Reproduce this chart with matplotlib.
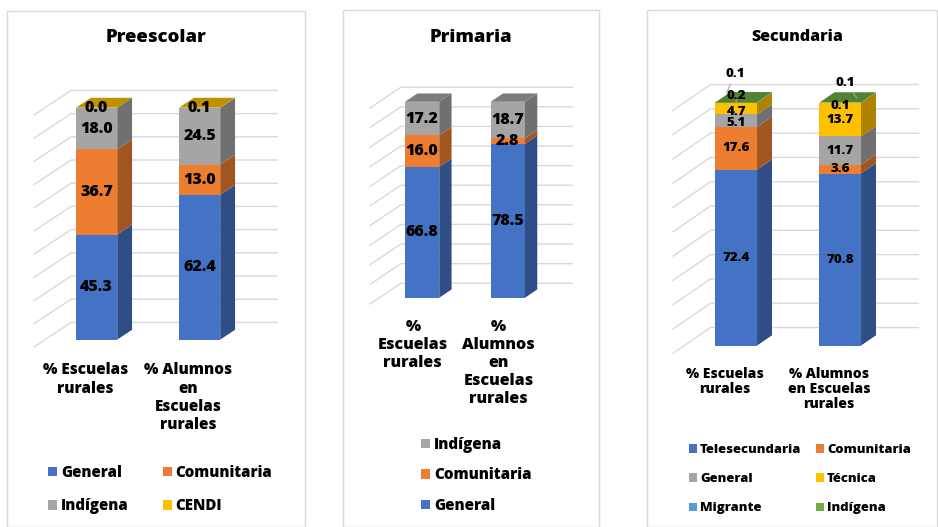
import matplotlib
matplotlib.use('Agg')
import matplotlib.pyplot as plt
from matplotlib.colors import to_rgb
from matplotlib.patches import Patch, Polygon, Rectangle

W, H = 938, 527

BLUE, ORANGE, GRAY, YELLOW, LBLUE, GREEN = (
    '#4472C4', '#ED7D31', '#A5A5A5', '#FFC000', '#5B9BD5', '#70AD47')
GRID = '#D9D9D9'

# Preescolar
pre_labels = ['% Escuelas\nrurales', '% Alumnos\nen\nEscuelas\nrurales']
pre_general = [45.3, 62.4]
pre_comunitaria = [36.7, 13.0]
pre_indigena = [18.0, 24.5]
pre_cendi = [0.0, 0.1]

# Primaria
pri_labels = ['%\nEscuelas\nrurales', '%\nAlumnos\nen\nEscuelas\nrurales']
pri_general = [66.8, 78.5]
pri_comunitaria = [16.0, 2.8]
pri_indigena = [17.2, 18.7]

# Secundaria
sec_labels = ['% Escuelas\nrurales', '% Alumnos\nen Escuelas\nrurales']
sec_telesecundaria = [72.4, 70.8]
sec_comunitaria = [17.6, 3.6]
sec_general = [5.1, 11.7]
sec_tecnica = [4.7, 13.7]
sec_migrante = [0.2, 0.1]
sec_indigena = [0.1, 0.1]

DX, DY = 0.36, 10.6   # full depth of the 3d box (x units, value units)
F0, F1 = 0.3, 0.7     # front / back of the bars, as part of the depth
BW = 0.4

plt.rcParams['font.family'] = ['Open Sans', 'DejaVu Sans']
plt.rcParams['font.weight'] = 'heavy'
WEIGHT = 'heavy'


def shade(c, k):
    return tuple(v * k for v in to_rgb(c))


def make_axes(fig, left, base, sx, sy):
    w = (2 + DX) * sx
    h = (100 + DY) * sy
    ax = fig.add_axes([left / W, 1 - base / H, w / W, h / H])
    ax.set_xlim(-0.5, 1.5 + DX)
    ax.set_ylim(0, 100 + DY)
    ax.set_frame_on(False)
    ax.set_yticks([])
    for v in range(0, 101, 10):
        ax.plot([-0.5, -0.5 + DX, 1.5 + DX], [v, v + DY, v + DY],
                color=GRID, lw=1, clip_on=False, zorder=0)
    return ax


def stack(ax, series, fs, moved=None):
    # moved: (series, bar) -> (dx, dy) from the segment middle,
    # or (dx, dy from the bar top, leader x, leader y)
    moved = moved or {}
    d = F1 - F0
    bottoms = [0.0, 0.0]
    for k, (name, vals, color) in enumerate(series):
        for i, v in enumerate(vals):
            b = bottoms[i]
            xc = i + F0 * DX
            ax.bar(xc, v, BW, bottom=b + F0 * DY, color=color, lw=0, zorder=2)
            xr = xc + BW / 2
            ax.add_patch(Polygon(
                [(xr, b + F0 * DY), (xr + d * DX, b + F1 * DY),
                 (xr + d * DX, b + v + F1 * DY), (xr, b + v + F0 * DY)],
                closed=True, fc=shade(color, 0.68), ec='none', zorder=2))
            bottoms[i] += v
    top_color = series[-1][2]
    for i, t in enumerate(bottoms):
        xl = i + F0 * DX - BW / 2
        ax.add_patch(Polygon(
            [(xl, t + F0 * DY), (xl + BW, t + F0 * DY),
             (xl + BW + d * DX, t + F1 * DY), (xl + d * DX, t + F1 * DY)],
            closed=True, fc=shade(top_color, 0.75), ec='none', zorder=2))

    bottoms = [0.0, 0.0]
    for k, (name, vals, color) in enumerate(series):
        for i, v in enumerate(vals):
            b = bottoms[i]
            bottoms[i] += v
            xc = i + F0 * DX
            y = b + v / 2 + F0 * DY
            spec = moved.get((k, i))
            txt = f'{v:.1f}'
            if spec is None:
                ax.text(xc, y, txt, ha='center', va='center', fontsize=fs,
                        fontweight=WEIGHT, zorder=4)
            elif len(spec) == 2:
                ax.text(xc + spec[0], y + spec[1], txt, ha='center',
                        va='center', fontsize=fs, fontweight=WEIGHT, zorder=4)
            else:
                top = sum(s[1][i] for s in series) + F0 * DY
                ax.annotate(txt, xy=(xc + spec[2], top + spec[3]),
                            xytext=(xc + spec[0], top + spec[1]),
                            ha='center', va='center', fontsize=fs,
                            fontweight=WEIGHT, annotation_clip=False, zorder=4,
                            arrowprops=dict(arrowstyle='-', color='#A6A6A6',
                                            lw=0.8, shrinkA=1, shrinkB=0))


def ticks(ax, labels, fs, pad, ls):
    ax.set_xticks([0, 1])
    ax.set_xticklabels(labels, fontsize=fs, fontweight=WEIGHT, linespacing=ls)
    ax.tick_params(axis='x', length=0, pad=pad)


def legend(ax, fig, items, x, y, fs, ncol, colsp, labsp):
    handles = [Patch(fc=c) for _, c in items]
    ax.legend(handles, [n for n, _ in items], loc='upper left',
              bbox_to_anchor=(x / W, 1 - y / H), bbox_transform=fig.transFigure,
              ncol=ncol, frameon=False, handlelength=0.6,
              handleheight=0.6, handletextpad=0.25, columnspacing=colsp,
              labelspacing=labsp, borderpad=0, borderaxespad=0,
              prop={'size': fs, 'weight': WEIGHT})


fig = plt.figure(figsize=(W / 100, H / 100), dpi=100)

for x0, x1, y0 in [(7, 305, 11), (343, 599, 10), (647, 937, 10)]:
    fig.add_artist(Rectangle((x0 / W, 0), (x1 - x0) / W, 1 - y0 / H,
                             transform=fig.transFigure, fill=False,
                             ec=GRID, lw=1))

# Preescolar
ax1 = make_axes(fig, 34, 347, 103, 2.32)
stack(ax1, [('General', pre_general, BLUE),
            ('Comunitaria', pre_comunitaria, ORANGE),
            ('Indígena', pre_indigena, GRAY),
            ('CENDI', pre_cendi, YELLOW)], 11.5)
ticks(ax1, pre_labels, 11, 11, 1.2)
fig.text(156 / W, 1 - 38 / H, 'Preescolar', ha='center', va='center',
         fontsize=13.3, fontweight=WEIGHT)
legend(ax1, fig, [('General', BLUE), ('Indígena', GRAY),
                  ('Comunitaria', ORANGE), ('CENDI', YELLOW)],
       48, 465, 10.8, 2, 2.3, 1.15)

# Primaria
ax2 = make_axes(fig, 370, 304, 85.7, 1.96)
stack(ax2, [('General', pri_general, BLUE),
            ('Comunitaria', pri_comunitaria, ORANGE),
            ('Indígena', pri_indigena, GRAY)], 11.5)
ticks(ax2, pri_labels, 11.5, 10.5, 1.18)
fig.text(471 / W, 1 - 38 / H, 'Primaria', ha='center', va='center',
         fontsize=13.3, fontweight=WEIGHT)
legend(ax2, fig, [('Indígena', GRAY), ('Comunitaria', ORANGE),
                  ('General', BLUE)], 421, 437, 10.9, 1, 1, 0.95)

# Secundaria
sec_moved = {(2, 0): (0.0, -1.1), (3, 0): (0.0, -1.2),
             (4, 0): (0.0, 2.8, 0, 0), (4, 1): (0.0, -1.4, 0, 0),
             (5, 0): (-0.01, 11.5, -0.09, 4.2),
             (5, 1): (0.05, 8.0, 0.16, 1.9)}
ax3 = make_axes(fig, 673, 353.3, 104, 2.43)
stack(ax3, [('Telesecundaria', sec_telesecundaria, BLUE),
            ('Comunitaria', sec_comunitaria, ORANGE),
            ('General', sec_general, GRAY),
            ('Técnica', sec_tecnica, YELLOW),
            ('Migrante', sec_migrante, LBLUE),
            ('Indígena', sec_indigena, GREEN)], 9.6, sec_moved)
ticks(ax3, sec_labels, 10, 10, 1.08)
fig.text(797 / W, 1 - 37 / H, 'Secundaria', ha='center', va='center',
         fontsize=11.5, fontweight=WEIGHT)
legend(ax3, fig, [('Telesecundaria', BLUE), ('General', GRAY),
                  ('Migrante', LBLUE), ('Comunitaria', ORANGE),
                  ('Técnica', YELLOW), ('Indígena', GREEN)],
       689, 444, 9.4, 2, 1.1, 1.32)

fig.savefig('out.png', dpi=100, facecolor='white')
